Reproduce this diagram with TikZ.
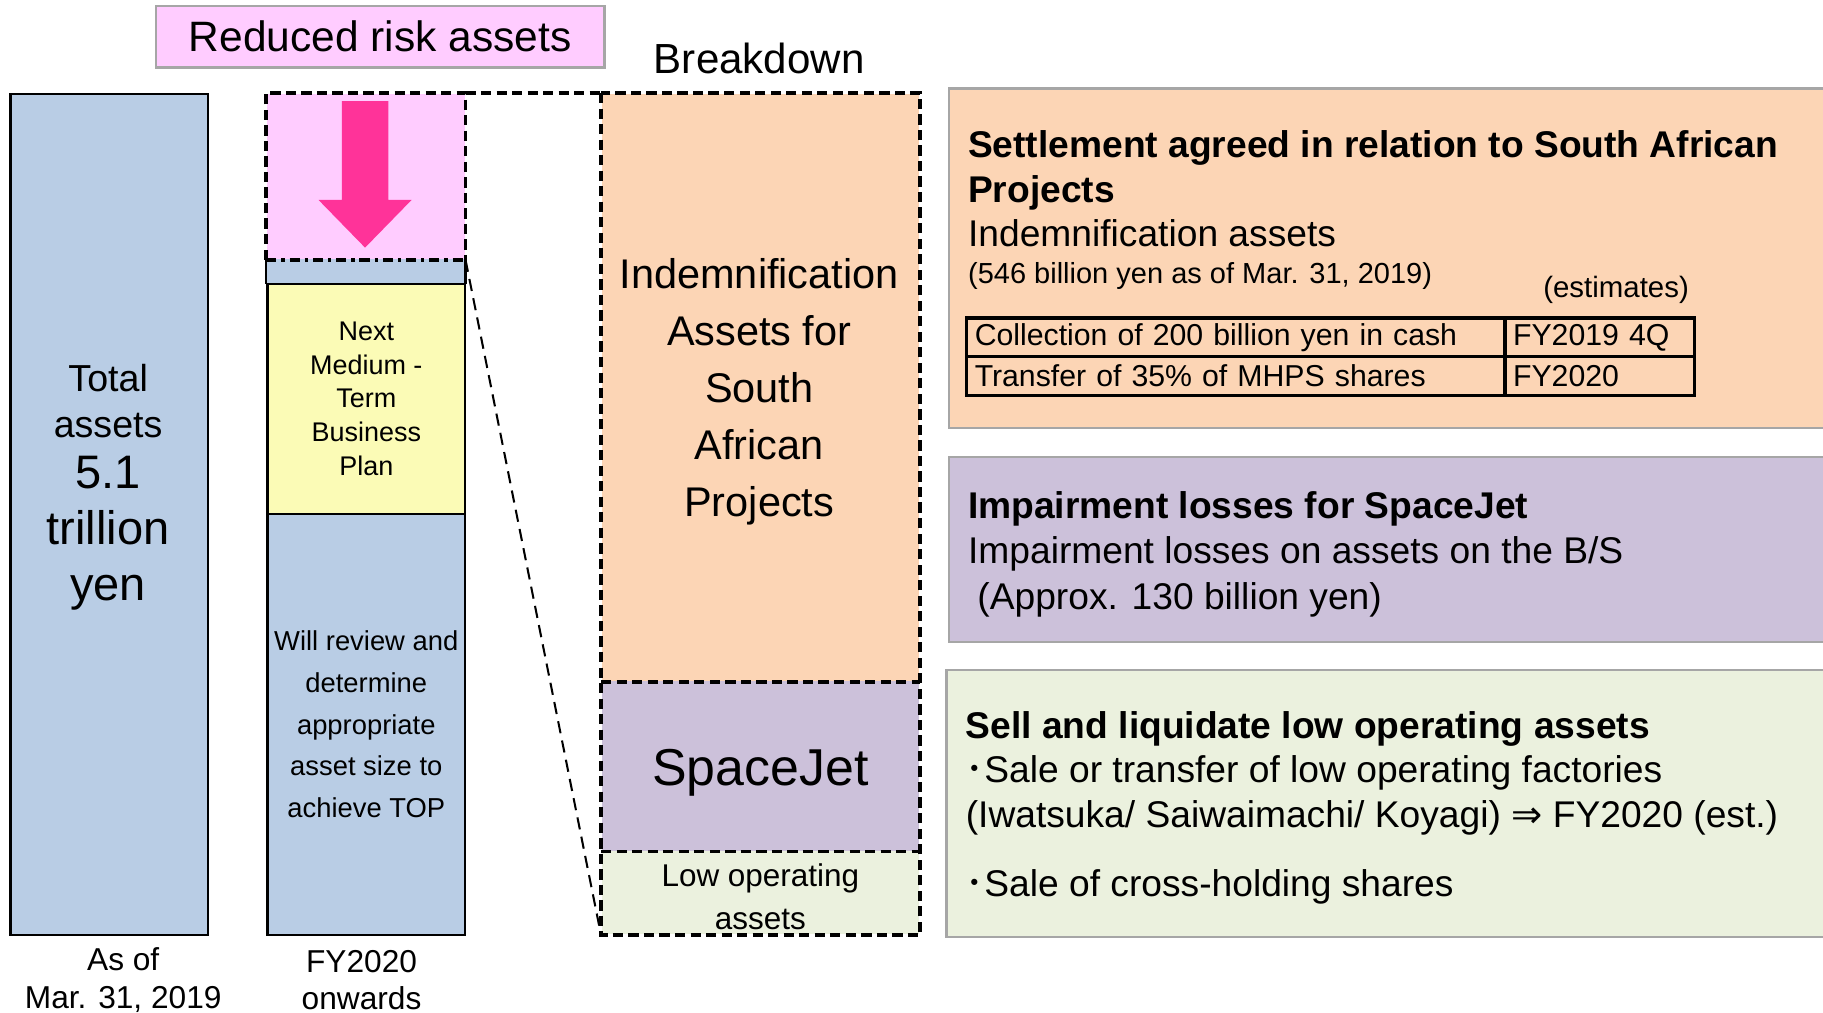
\documentclass[tikz,border=0pt]{standalone}
\usepackage{fontspec}
\setmainfont{Liberation Sans}
\newfontfamily\jpfont{Noto Sans CJK JP}
\newfontfamily\symfont{DejaVu Sans}

\definecolor{riskpink}{HTML}{FFCCFF}
\definecolor{arrowpink}{HTML}{FF3399}
\definecolor{assetblue}{HTML}{B9CDE5}
\definecolor{planyellow}{HTML}{FBFBB6}
\definecolor{indemorange}{HTML}{FCD5B5}
\definecolor{jetpurple}{HTML}{CCC1DA}
\definecolor{lowgreen}{HTML}{EBF1DE}
\definecolor{framegray}{HTML}{A6A6A6}

\begin{document}
\begin{tikzpicture}[x = 0.1mm, y = -0.1mm,
                      box/.style = {anchor = north west, inner sep = 0pt},
                      bar/.style = {box, draw, line width = 0.6pt, fill = assetblue},
                      panel/.style = {box, draw = framegray, line width = 0.6pt, minimum width = 77mm},
                      txt/.style = {anchor = north west, inner sep = 0pt, align = left},
                      cell/.style = {box, draw, line width = 0.8pt, inner xsep = 0.7mm, align = left,
                                     minimum height = 3.35mm, font = \fontsize{7.4}{9}\selectfont},
                      bigdash/.style = {line width = 0.9pt, dash pattern = on 2.5pt off 1.3pt},
                      dashdot/.style = {line width = 0.9pt, dash pattern = on 2.5pt off 1.2pt on 0.8pt off 1.2pt},
                      thindash/.style = {line width = 0.5pt, dash pattern = on 3pt off 1.8pt}]
    \useasboundingbox (0,0) rectangle (1568,871);
    \clip (0,0) rectangle (1568,871);

    % headings
    \node [fill = riskpink, draw = framegray, line width = 0.6pt, minimum width = 38.6mm, minimum height = 5.3mm,
           font = \fontsize{10.4}{12}\selectfont] (reduced) at (327,31.5) {Reduced risk assets};
    \node [font = \fontsize{10.3}{12}\selectfont] (breakdown) at (653,50) {Breakdown};

    % total assets now
    \node [bar, minimum width = 17mm, minimum height = 72.3mm] (total) at (8,80) {};
    \node [align = center, font = \fontsize{9.2}{11.4}\selectfont] (totaltxt) at (93,345) {Total\\assets};
    \node [align = center, font = \fontsize{11.5}{13.7}\selectfont] (totalval) at (93,459) {5.1\\trillion\\yen};

    % FY2020 onwards
    \node [box, fill = riskpink, minimum width = 17mm, minimum height = 14.2mm] (risk) at (229,80) {};
    \fill [arrowpink] (294,87) -- (334,87) -- (334,172) -- (354,172) -- (314,213) -- (274,172) -- (294,172) -- cycle;
    \node [box, fill = assetblue, minimum width = 17mm, minimum height = 2.1mm] (strip) at (229,222) {};
    \node [bar, fill = planyellow, minimum width = 17mm, minimum height = 19.8mm, align = center,
           font = \fontsize{6.6}{8.25}\selectfont] (plan) at (229,243) {Next\\Medium -\\Term\\Business\\Plan};
    \node [bar, minimum width = 17mm, minimum height = 36.2mm, align = center,
           font = \fontsize{6.7}{10.2}\selectfont] (review) at (229,441)
          {Will review and\\determine\\appropriate\\asset size to\\achieve TOP};
    \draw [line width = 0.6pt] (strip.north west) -- (strip.south west);
    \draw [line width = 0.6pt] (strip.north east) -- (strip.south east);
    \draw [bigdash] (risk.south west) -- (risk.north west) -- (risk.north east) -- (risk.south east);
    \draw [dashdot] (risk.south west) -- (risk.south east);

    \node [align = center, font = \fontsize{7.75}{9.1}\selectfont] (asof) at (106,843) {As of\\Mar. 31, 2019};
    \node [align = center, font = \fontsize{7.75}{9.1}\selectfont] (fy) at (311,843) {FY2020\\onwards};

    % breakdown column
    \node [box, fill = indemorange, minimum width = 27.3mm, minimum height = 50.5mm] (indem) at (517,80) {};
    \node [box, fill = jetpurple, minimum width = 27.3mm, minimum height = 14.6mm] (jet) at (517,585) {};
    \node [box, fill = lowgreen, minimum width = 27.3mm, minimum height = 7.2mm] (lowop) at (517,731) {};
    \draw [bigdash] (indem.north west) rectangle (lowop.south east);
    \draw [bigdash] (indem.south west) -- (indem.south east);
    \draw [bigdash] (jet.south west) -- (jet.south east);
    \node [align = center, font = \fontsize{10.15}{13.9}\selectfont] (indemtxt) at (653,337)
          {Indemnification\\Assets for\\South\\African\\Projects};
    \node [font = \fontsize{12.7}{15}\selectfont] (jettxt) at (654,665) {SpaceJet};
    \node [align = center, font = \fontsize{7.7}{10.5}\selectfont] (lowoptxt) at (654,771) {Low operating\\assets};

    \draw [bigdash] (risk.north east) -- (indem.north west);
    \draw [thindash] (risk.south east) -- (lowop.south west);

    % details on the right
    \node [panel, fill = indemorange, minimum height = 29.2mm] (settle) at (815,75) {};
    \node [txt, font = \fontsize{9.1}{10.8}\selectfont] (settletxt) at (832,112)
          {\textbf{Settlement agreed in relation to South African}\\\textbf{Projects}\\Indemnification assets};
    \node [anchor = west, inner sep = 0pt, font = \fontsize{7.1}{8.5}\selectfont] (settlenote) at (832,237)
          {(546 billion yen as of Mar. 31, 2019)};
    \node [font = \fontsize{7.2}{8.5}\selectfont] (estimates) at (1390,249) {(estimates)};
    \node [cell, text width = 44.9mm] (cashitem) at (830,272) {Collection of 200 billion yen in cash};
    \node [cell, text width = 14.9mm] (cashwhen) at (1293,272) {FY2019 4Q};
    \node [cell, text width = 44.9mm] (shareitem) at (830,305) {Transfer of 35\% of MHPS shares};
    \node [cell, text width = 14.9mm] (sharewhen) at (1293,305) {FY2020};

    \node [panel, fill = jetpurple, minimum height = 15.9mm] (impair) at (815,392) {};
    \node [txt, font = \fontsize{9.1}{11.1}\selectfont] (impairtxt) at (832,422)
          {\textbf{Impairment losses for SpaceJet}\\Impairment losses on assets on the B/S\\\hspace*{0.8mm}(Approx. 130 billion yen)};

    \node [panel, fill = lowgreen, minimum height = 23mm] (sell) at (813,575) {};
    \node [txt, font = \fontsize{9.1}{10.95}\selectfont] (selltxt) at (830,611)
          {\textbf{Sell and liquidate low operating assets}\\
           {\jpfont ･}Sale or transfer of low operating factories\\
           (Iwatsuka/ Saiwaimachi/ Koyagi) {\symfont ⇒} FY2020 (est.)\\[2.1mm]
           {\jpfont ･}Sale of cross-holding shares};
\end{tikzpicture}
\end{document}
